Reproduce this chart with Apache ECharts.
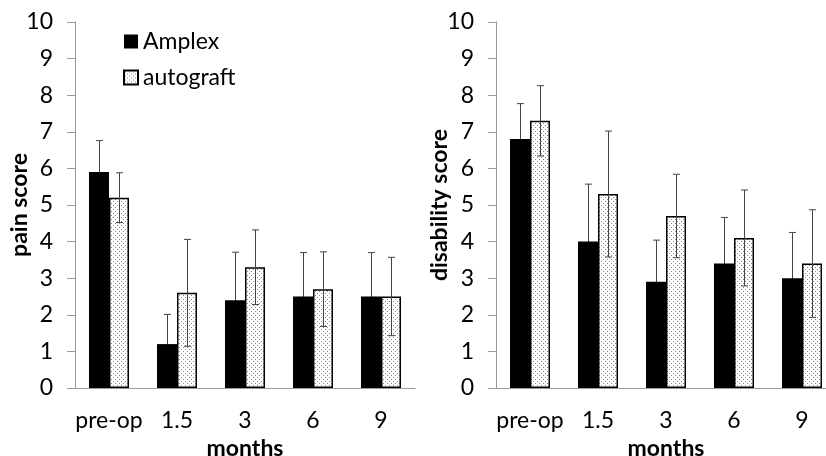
<!DOCTYPE html>
<html>
<head>
<meta charset="utf-8">
<script src="https://cdn.jsdelivr.net/npm/echarts@6/dist/echarts.min.js"></script>
<style>
html, body { margin: 0; padding: 0; background: #fff; }
#chart { width: 826px; height: 456px; }
</style>
</head>
<body>
<div id="chart"></div>
<script>
var categories = ['pre-op', '1.5', '3', '6', '9'];
var yTicks = [0, 1, 2, 3, 4, 5, 6, 7, 8, 9, 10];

var painAmplex = [5.9, 1.2, 2.4, 2.5, 2.5];
var painAmplexSd = [0.86, 0.81, 1.31, 1.2, 1.2];
var painAuto = [5.2, 2.6, 3.3, 2.7, 2.5];
var painAutoSd = [0.68, 1.46, 1.02, 1.02, 1.07];

var disAmplex = [6.8, 4.0, 2.9, 3.4, 3.0];
var disAmplexSd = [0.97, 1.57, 1.14, 1.26, 1.25];
var disAuto = [7.3, 5.3, 4.7, 4.1, 3.4];
var disAutoSd = [0.96, 1.72, 1.14, 1.31, 1.47];

var FONT = 'Lato';
var FS = 23;

// dotted fill
var pc = document.createElement('canvas');
pc.width = 4; pc.height = 4;
var ctx = pc.getContext('2d');
ctx.fillStyle = '#fff';
ctx.fillRect(0, 0, 4, 4);
ctx.fillStyle = '#8a8a8a';
ctx.fillRect(1, 1, 1, 1);
ctx.fillRect(3, 3, 1, 1);
var dotted = { image: pc, repeat: 'repeat' };

function errData(means, sds) {
	return means.map(function(m, i) { return [i, m, sds[i]]; });
}

// z below the bars for the black series (its lower half is hidden by the bar)
function errSeries(name, idx, means, sds, shift, z) {
	return {
		name: name,
		type: 'custom',
		xAxisIndex: idx,
		yAxisIndex: idx,
		z: z,
		silent: true,
		data: errData(means, sds),
		renderItem: function(params, api) {
			var i = api.value(0), m = api.value(1), s = api.value(2);
			var hi = api.coord([i, m + s]);
			var lo = api.coord([i, m - s]);
			var x = Math.round(hi[0] + shift) + 0.5;
			var cap = 3.5;
			var st = { stroke: '#444', lineWidth: 1 };
			return {
				type: 'group',
				children: [
					{ type: 'line', shape: { x1: x, y1: hi[1], x2: x, y2: lo[1] }, style: st },
					{ type: 'line', shape: { x1: x - cap, y1: hi[1], x2: x + cap, y2: hi[1] }, style: st },
					{ type: 'line', shape: { x1: x - cap, y1: lo[1], x2: x + cap, y2: lo[1] }, style: st }
				]
			};
		}
	};
}

function xAx(idx) {
	return {
		type: 'category',
		gridIndex: idx,
		data: categories,
		name: 'months',
		nameLocation: 'middle',
		nameGap: 49,
		nameMoveOverlap: false,
		nameTextStyle: { fontFamily: FONT, fontSize: FS, fontWeight: 'bold', color: '#000' },
		axisLine: { lineStyle: { color: '#9a9a9a', width: 1 } },
		axisTick: { length: 8, lineStyle: { color: '#9a9a9a' } },
		axisLabel: { interval: 0, fontFamily: FONT, fontSize: FS, color: '#000', margin: 21 }
	};
}

function yAx(idx, name, gap) {
	return {
		type: 'value',
		gridIndex: idx,
		min: yTicks[0],
		max: yTicks[yTicks.length - 1],
		interval: 1,
		name: name,
		nameLocation: 'middle',
		nameGap: gap,
		nameMoveOverlap: false,
		nameTextStyle: { fontFamily: FONT, fontSize: FS, fontWeight: 'bold', color: '#000' },
		splitLine: { show: false },
		axisLine: { show: true, lineStyle: { color: '#9a9a9a', width: 1 } },
		axisTick: { show: true, length: 8, lineStyle: { color: '#9a9a9a' } },
		axisLabel: { fontFamily: FONT, fontSize: FS, color: '#000', margin: 22 }
	};
}

function barSeries(name, idx, values, isAuto) {
	return {
		name: name,
		type: 'bar',
		xAxisIndex: idx,
		yAxisIndex: idx,
		barWidth: 20,
		barGap: '0%',
		z: 2,
		data: values,
		itemStyle: isAuto
			? { color: dotted, borderColor: '#000', borderWidth: 1.5 }
			: { color: '#000' }
	};
}

var myChart = echarts.init(document.getElementById('chart'));
var option = {
	animation: false,
	backgroundColor: '#fff',
	legend: {
		orient: 'vertical',
		left: 118,
		top: 25,
		itemWidth: 14,
		itemHeight: 14,
		itemGap: 13,
		icon: 'rect',
		data: ['Amplex', 'autograft'],
		textStyle: { fontFamily: FONT, fontSize: FS, color: '#000' }
	},
	grid: [
		{ left: 75, top: 22, width: 340, height: 366, outerBoundsMode: 'none' },
		{ left: 496, top: 22, width: 340, height: 366, outerBoundsMode: 'none' }
	],
	xAxis: [xAx(0), xAx(1)],
	yAxis: [yAx(0, 'pain score', 44), yAx(1, 'disability score', 45)],
	series: [
		barSeries('Amplex', 0, painAmplex, false),
		barSeries('autograft', 0, painAuto, true),
		barSeries('Amplex', 1, disAmplex, false),
		barSeries('autograft', 1, disAuto, true),
		errSeries('errA0', 0, painAmplex, painAmplexSd, -10, 1),
		errSeries('errB0', 0, painAuto, painAutoSd, 10, 5),
		errSeries('errA1', 1, disAmplex, disAmplexSd, -10, 1),
		errSeries('errB1', 1, disAuto, disAutoSd, 10, 5)
	]
};
myChart.setOption(option);
</script>
</body>
</html>
